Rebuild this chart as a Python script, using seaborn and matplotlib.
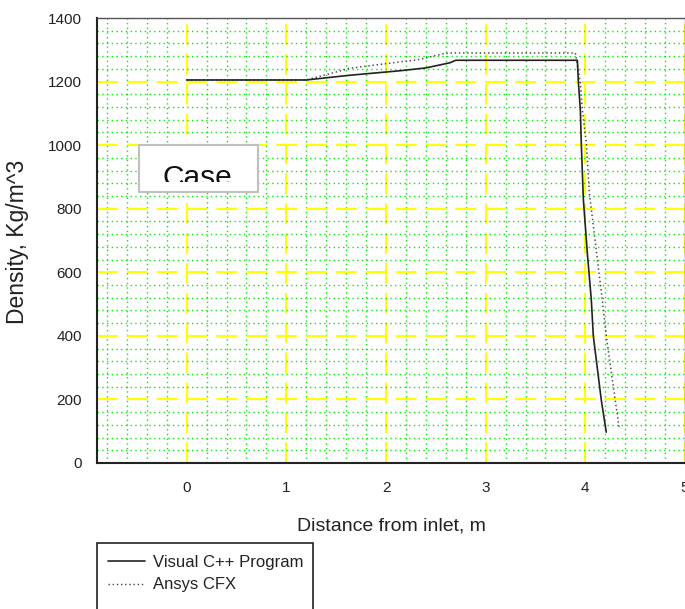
import matplotlib
matplotlib.use("Agg")
import matplotlib.pyplot as plt
from matplotlib.patches import Rectangle
from matplotlib.lines import Line2D
from matplotlib.ticker import MultipleLocator
from matplotlib.transforms import Bbox
import seaborn as sns
import pandas as pd

# Density along the channel: in-house solver vs. CFX
x_cpp = [0, 1.2, 1.64, 2.14, 2.4, 2.64, 2.7, 3.92, 3.93, 3.95, 3.96, 3.98, 4.02, 4.06, 4.08, 4.16, 4.21]
y_cpp = [1205, 1205, 1220, 1234, 1243, 1259, 1267, 1267, 1200, 1110, 1000, 830, 660, 513, 400, 198, 97]

x_cfx = [0, 1.2, 1.64, 2.14, 2.31, 2.57, 2.64, 3.9, 3.95, 3.97, 4.01, 4.04, 4.17, 4.21, 4.3, 4.34]
y_cfx = [1205, 1205, 1242, 1262, 1268, 1287, 1290, 1290, 1195, 1110, 1006, 850, 513, 400, 198, 110]

series_names = ["Visual C++ Program", "Ansys CFX"]
x_ticks = [0, 1, 2, 3, 4, 5]
y_ticks = [0, 200, 400, 600, 800, 1000, 1200, 1400]

sns.set_style("white")
plt.rcParams["font.family"] = ["Liberation Sans", "DejaVu Sans"]
plt.rcParams["lines.scale_dashes"] = False

W, H = 685, 609
fig = plt.figure(figsize=(W / 100, H / 100), dpi=100)
fig.patch.set_facecolor("white")
ax = fig.add_axes([97 / W, (H - 463) / H, 588 / W, 445 / H])
ax.set_facecolor("white")

ax.set_xlim(-0.9, 5.0)
ax.set_ylim(0, 1400)
ax.set_xticks(x_ticks)
ax.set_yticks(y_ticks)
ax.xaxis.set_minor_locator(MultipleLocator(0.2))
ax.yaxis.set_minor_locator(MultipleLocator(40))

# fine dotted green grid, coarse dashed yellow grid on top
ax.grid(which="minor", color="#00ee00", linestyle=(0, (1.0, 2.4)), linewidth=1.0, zorder=0)
ax.grid(which="major", color="#ffff00", linestyle=(0, (15, 6.5)), linewidth=1.5, zorder=0.5)
ax.set_axisbelow(True)

ax.tick_params(which="minor", length=0)
ax.tick_params(which="major", direction="out", length=5, width=1.2, color="#222222",
               labelsize=11, labelcolor="#222222", pad=6)
ax.tick_params(axis="x", which="major", pad=8)

for side in ["left", "bottom"]:
    ax.spines[side].set_color("#222222")
    ax.spines[side].set_linewidth(1.5)
for side in ["top", "right"]:
    ax.spines[side].set_color("#555555")
    ax.spines[side].set_linewidth(1.0)

df_cpp = pd.DataFrame({"x": x_cpp, "y": y_cpp})
df_cfx = pd.DataFrame({"x": x_cfx, "y": y_cfx})
sns.lineplot(data=df_cfx, x="x", y="y", ax=ax, sort=False, estimator=None,
             color="#444444", linewidth=1.1, linestyle=(0, (1.0, 2.0)), zorder=3)
sns.lineplot(data=df_cpp, x="x", y="y", ax=ax, sort=False, estimator=None,
             color="#222222", linewidth=1.2, zorder=4)
ax.set_xlabel("")
ax.set_ylabel("")

fig.text(391 / W, (H - 526) / H, "Distance from inlet, m", ha="center", va="center",
         fontsize=14, color="#222222")
fig.text(18 / W, (H - 242) / H, "Density, Kg/m^3", ha="center", va="center",
         rotation=90, fontsize=16.5, color="#222222")

# "Case" callout box, text cut off by the box interior
fig.patches.append(Rectangle((139 / W, (H - 192) / H), 119 / W, 47 / H,
                             transform=fig.transFigure, facecolor="white",
                             edgecolor="#c0c0c0", linewidth=1.5, zorder=5))
case_txt = fig.text(162 / W, (H - 185.5) / H, "Case", ha="left", va="baseline",
                    fontsize=21.5, color="#111111", zorder=6)
case_txt.set_clip_box(Bbox.from_extents(140, H - 182, 257, H - 146))
case_txt.set_clip_on(True)

# legend below the plot
fig.patches.append(Rectangle((97 / W, (H - 620) / H), 216 / W, 77 / H,
                             transform=fig.transFigure, facecolor="white",
                             edgecolor="#222222", linewidth=1.2, zorder=5))
handles = [Line2D([], [], color="#222222", linewidth=1.2),
           Line2D([], [], color="#444444", linewidth=1.0, linestyle=(0, (1.0, 2.0)))]
leg = fig.legend(handles, series_names, loc="upper left",
                 bbox_to_anchor=(108 / W, (H - 555) / H), frameon=False,
                 fontsize=12, handlelength=2.2, handletextpad=0.5,
                 labelspacing=0.45, borderpad=0, borderaxespad=0)
for t in leg.get_texts():
    t.set_color("#222222")
leg.set_zorder(7)

fig.savefig("out.png", dpi=100, facecolor="white")
